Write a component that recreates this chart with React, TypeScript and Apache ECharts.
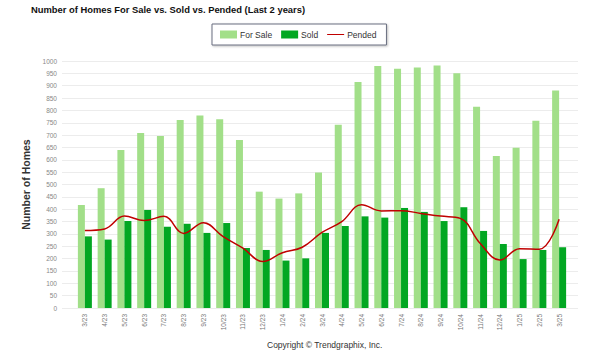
import React, { useEffect, useRef } from "react";
import * as echarts from "echarts";

const months = ["3/23","4/23","5/23","6/23","7/23","8/23","9/23","10/23","11/23","12/23","1/24","2/24","3/24","4/24","5/24","6/24","7/24","8/24","9/24","10/24","11/24","12/24","1/25","2/25","3/25"];
const forSale = [417,485,640,708,696,761,779,764,680,471,443,464,549,742,915,980,969,974,982,950,815,615,649,758,881];
const sold = [290,277,352,397,329,341,304,344,243,235,192,201,304,332,371,366,405,389,352,408,312,259,198,235,246];
const pended = [314,320,372,354,371,302,345,289,242,188,224,246,306,350,418,393,394,383,372,363,262,194,240,238,359];

const FONT = "Liberation Sans, Arial, sans-serif";
const LINE_ICON = "path://M0,0 L0.01,0 L0.01,0.01 Z M0,3.3 L20,3.3 L20,4.7 L0,4.7 Z M19.99,7.99 L20,7.99 L20,8 Z";

export default function App() {
  const ref = useRef<HTMLDivElement>(null);
  useEffect(() => {
    const chart = echarts.init(ref.current!, null, { renderer: "svg" });
    chart.setOption({
      animation: false,
      backgroundColor: "#fff",
      title: {
        text: "Number of Homes For Sale vs. Sold vs. Pended (Last 2 years)",
        left: 26,
        top: 0,
        textStyle: { fontFamily: FONT, fontSize: 9.4, fontWeight: "bold", color: "#111" },
      },
      legend: {
        left: 212,
        top: 24,
        padding: [6, 10, 6, 8],
        borderColor: "#6a6f80",
        borderWidth: 1,
        shadowColor: "rgba(0,0,0,0.25)",
        shadowBlur: 2,
        shadowOffsetX: 1,
        shadowOffsetY: 1,
        backgroundColor: "#fff",
        itemWidth: 17,
        itemHeight: 8,
        itemGap: 9,
        textStyle: { fontFamily: FONT, fontSize: 8.5, color: "#333", padding: [0, 0, 0, -2] },
        data: [
          { name: "For Sale", icon: "rect" },
          { name: "Sold", icon: "rect" },
          { name: "Pended", icon: LINE_ICON, itemStyle: { color: "#c00000" } },
        ],
      },
      graphic: [
        {
          type: "text",
          left: 267,
          top: 340,
          style: { text: "Copyright © Trendgraphix, Inc.", fontFamily: FONT, fontSize: 8.5, fill: "#333" },
        },
      ],
      grid: [
        { left: 75, right: 31, top: 61, bottom: 52 },
        { left: 62, right: 22, top: 61, bottom: 52 },
      ],
      xAxis: [
        {
          type: "category",
          gridIndex: 0,
          data: months,
          axisLine: { show: false },
          axisTick: { show: false },
          axisLabel: { rotate: 90, fontSize: 6.5, color: "#777", fontFamily: FONT, margin: 6, interval: 0 },
        },
        { type: "value", gridIndex: 1, show: false, min: 0, max: 1 },
      ],
      yAxis: [
        {
          type: "value",
          gridIndex: 0,
          min: 0,
          max: 1000,
          interval: 50,
          show: false,
          splitLine: { show: false },
        },
        {
          type: "value",
          gridIndex: 1,
          min: 0,
          max: 1000,
          interval: 50,
          name: "Number of Homes",
          nameLocation: "middle",
          nameGap: 27,
          nameTextStyle: { fontFamily: FONT, fontSize: 10.5, fontWeight: "bold", color: "#333" },
          axisLine: { show: false },
          axisTick: { show: false },
          axisLabel: { fontSize: 6.5, color: "#888", fontFamily: FONT, margin: 5, formatter: (v: number) => String(v) },
          splitLine: { lineStyle: { color: "#ececec", width: 1 } },
        },
      ],
      series: [
        {
          name: "For Sale",
          type: "bar",
          xAxisIndex: 0,
          yAxisIndex: 0,
          data: forSale,
          barWidth: 7,
          barGap: "0%",
          itemStyle: { color: "#a2df89" },
        },
        {
          name: "Sold",
          type: "bar",
          xAxisIndex: 0,
          yAxisIndex: 0,
          data: sold,
          barWidth: 7,
          barGap: "0%",
          itemStyle: { color: "#02a722" },
        },
        {
          name: "Pended",
          type: "line",
          xAxisIndex: 0,
          yAxisIndex: 0,
          data: pended,
          smooth: 0.4,
          symbol: "none",
          lineStyle: { color: "#c00000", width: 1.5 },
          itemStyle: { color: "#c00000" },
          z: 5,
        },
      ],
    });
    return () => chart.dispose();
  }, []);
  return <div ref={ref} style={{ width: 600, height: 360, position: "absolute", left: 0, top: 0 }} />;
}
